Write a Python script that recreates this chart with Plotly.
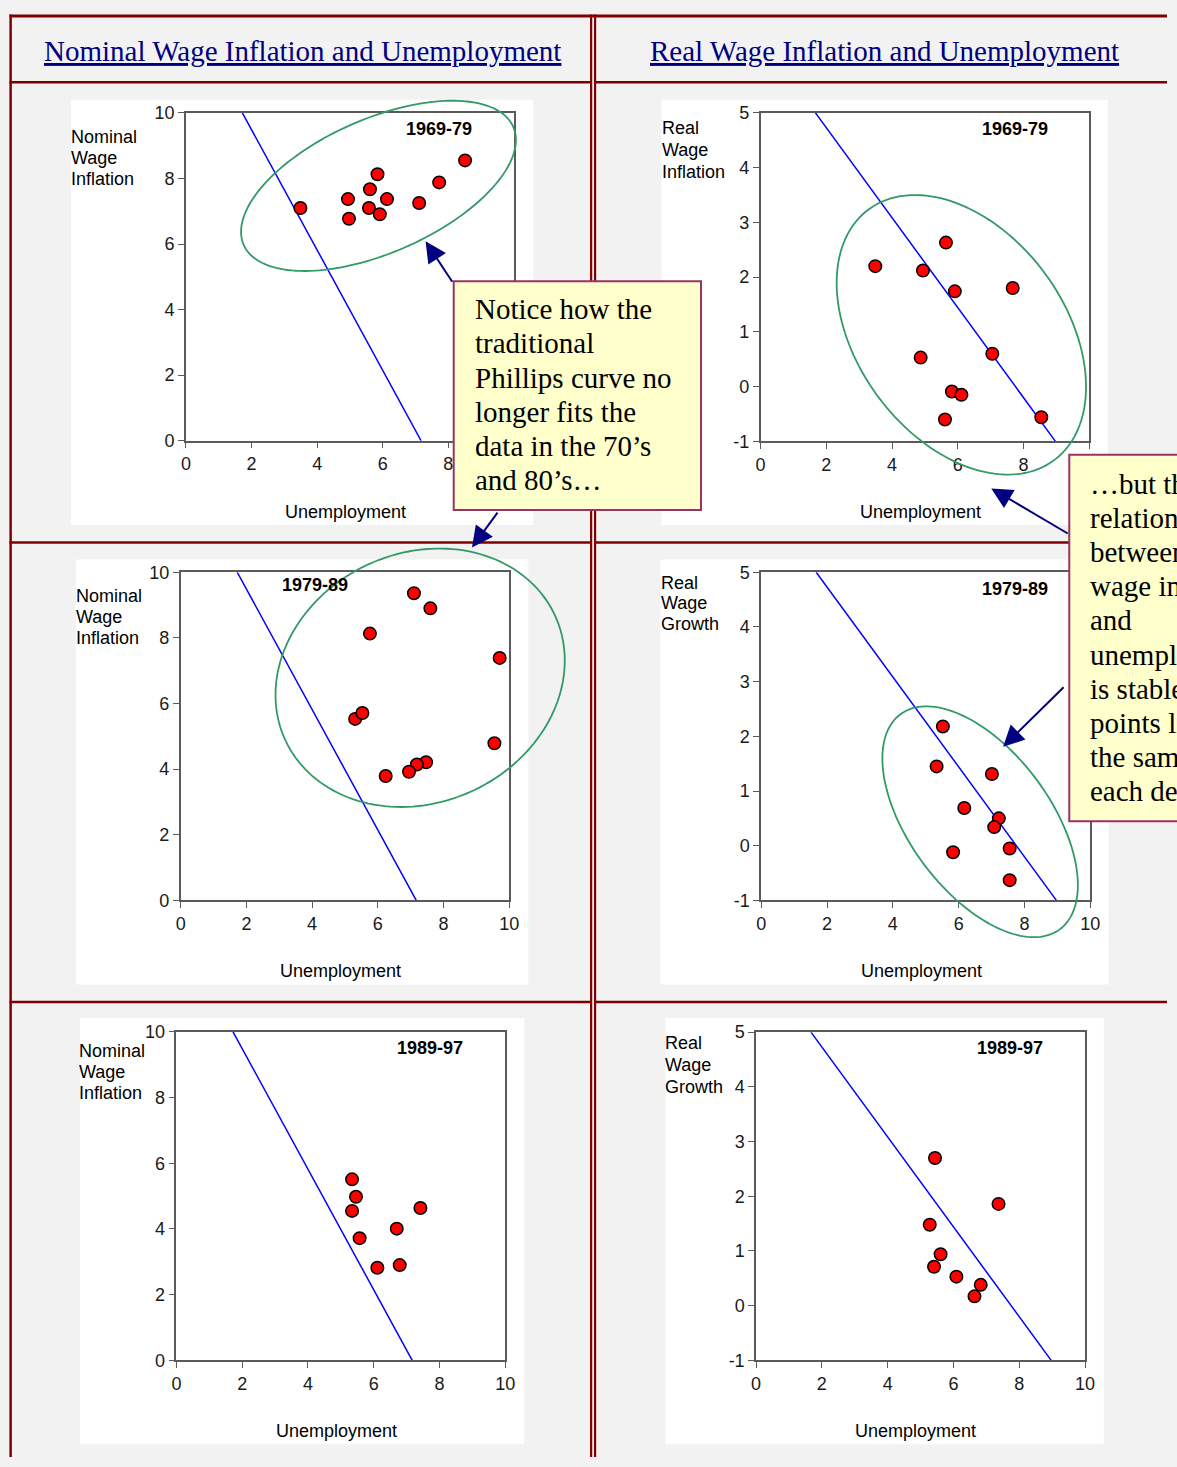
import numpy as np
import plotly.graph_objects as go

W, H = 1177, 1467

# ---------------- data ----------------
periods = ["1969-79", "1979-89", "1989-97"]

nom_u_6979 = [3.49, 4.94, 4.97, 5.61, 5.84, 5.58, 5.91, 6.13, 7.11, 7.72, 8.51]
nom_w_6979 = [7.10, 7.37, 6.77, 7.67, 8.13, 7.10, 6.91, 7.37, 7.25, 7.88, 8.55]
real_u_6979 = [3.49, 4.94, 5.64, 5.91, 7.67, 4.87, 7.05, 5.82, 6.11, 5.61, 8.54]
real_w_6979 = [2.20, 2.12, 2.63, 1.74, 1.80, 0.53, 0.60, -0.09, -0.15, -0.60, -0.56]

nom_u_7989 = [7.10, 7.60, 5.76, 9.71, 5.31, 5.53, 9.55, 7.47, 7.19, 6.95, 6.24]
nom_w_7989 = [9.36, 8.90, 8.13, 7.39, 5.53, 5.71, 4.79, 4.21, 4.14, 3.92, 3.79]
real_u_7989 = [5.52, 5.33, 7.01, 6.17, 7.22, 7.08, 7.55, 5.83, 7.55]
real_w_7989 = [2.18, 1.45, 1.31, 0.69, 0.50, 0.34, -0.05, -0.12, -0.63]

nom_u_8997 = [5.34, 5.46, 5.34, 5.57, 6.11, 6.79, 6.70, 7.42]
nom_w_8997 = [5.51, 4.98, 4.55, 3.72, 2.82, 2.90, 4.01, 4.64]
real_u_8997 = [5.44, 7.37, 5.28, 5.61, 5.41, 6.09, 6.83, 6.64]
real_w_8997 = [2.70, 1.86, 1.48, 0.94, 0.71, 0.53, 0.38, 0.17]

# reference Phillips lines (end points)
curve_nom_u = [1.72, 7.17]
curve_nom_w = [10, 0]
curve_real_u = [1.67, 8.97]
curve_real_w = [5, -1]

x_ticks = [0, 2, 4, 6, 8, 10]
nom_y_ticks = [0, 2, 4, 6, 8, 10]
real_y_ticks = [-1, 0, 1, 2, 3, 4, 5]
real_y_ticktext = ["-1", "0", "1", "2", "3", "4", "5"]

headers = ["Nominal Wage Inflation and Unemployment", "Real Wage Inflation and Unemployment"]
x_title = "Unemployment"
nom_ylabel = ["Nominal", "Wage", "Inflation"]
real_ylabel_1 = ["Real", "Wage", "Inflation"]
real_ylabel_2 = ["Real", "Wage", "Growth"]

note1_lines = ["Notice how the", "traditional", "Phillips curve no", "longer fits the",
               "data in the 70\u2019s", "and 80\u2019s\u2026"]
note2_lines = ["\u2026but the", "relationship", "between real", "wage inflation", "and",
               "unemployment", "is stable: the", "points lie on", "the same line", "each decade."]

# ---------------- layout geometry (pixels) ----------------
panels = [
    dict(u=nom_u_6979, w=nom_w_6979, cu=curve_nom_u, cw=curve_nom_w, kind="nom",
         px=(183.3, 515.5, 104.3, 436.7), bg=(67, 91, 535, 522), period=periods[0],
         ylab=nom_ylabel, ylab_pos=(67.3, 128.3, 21.7), xlab=(345, 509), per_pos=(440, 121)),
    dict(u=real_u_6979, w=real_w_6979, cu=curve_real_u, cw=curve_real_w, kind="real",
         px=(765.3, 1098.3, 104.3, 437.3), bg=(665, 91, 1117, 522), period=periods[0],
         ylab=real_ylabel_1, ylab_pos=(665.7, 119.3, 22.3), xlab=(927.7, 509), per_pos=(1022.7, 121)),
    dict(u=nom_u_7989, w=nom_w_7989, cu=curve_nom_u, cw=curve_nom_w, kind="nom",
         px=(178, 510.7, 570, 902.7), bg=(72, 557, 530, 988), period=periods[1],
         ylab=nom_ylabel, ylab_pos=(72.3, 594.3, 21.2), xlab=(340, 974.3), per_pos=(314.3, 583.3)),
    dict(u=real_u_7989, w=real_w_7989, cu=curve_real_u, cw=curve_real_w, kind="real",
         px=(766, 1099.3, 570, 902.7), bg=(664, 557, 1118, 988), period=periods[1],
         ylab=real_ylabel_2, ylab_pos=(664.7, 580.7, 21), xlab=(928.7, 974.3), per_pos=(1023.3, 586.7)),
    dict(u=nom_u_8997, w=nom_w_8997, cu=curve_nom_u, cw=curve_nom_w, kind="nom",
         px=(173.7, 506.7, 1036, 1369), bg=(76, 1022, 526, 1454), period=periods[2],
         ylab=nom_ylabel, ylab_pos=(75.3, 1055, 21.3), xlab=(335.3, 1440.3), per_pos=(430, 1052.7)),
    dict(u=real_u_8997, w=real_w_8997, cu=curve_real_u, cw=curve_real_w, kind="real",
         px=(760.7, 1094, 1036.3, 1369), bg=(669, 1022, 1113, 1454), period=periods[2],
         ylab=real_ylabel_2, ylab_pos=(668.7, 1047.7, 22), xlab=(922.7, 1440.3), per_pos=(1017.7, 1052.7)),
]

# ellipses: centre x, centre y, half width, half height, cos(phase)
ellipses = [
    (378.3, 178.3, 139.2, 86.3, -0.539),
    (968.7, 329.3, 126.3, 141.7, 0.372),
    (420.5, 677.0, 146.5, 131.0, -0.133),
    (987.7, 823.0, 99.0, 117.0, 0.549),
]

# arrows: tip (x, y), tail (x, y)
arrows = [
    ((426, 234.5), (454, 277)),
    ((473, 545), (500, 508)),
    ((999, 485), (1077, 531)),
    ((1011, 747), (1073, 686)),
]

SANS = "Arial, Liberation Sans, sans-serif"
SERIF = "Times New Roman, Liberation Serif, serif"
RED_LINE = "#800000"
CLEAR = "rgba(0,0,0,0)"


def px_x(x):
    return x / W


def px_y(y):
    return 1 - y / H


fig = go.Figure()
layout = dict(
    width=W, height=H, autosize=False,
    margin=dict(l=0, r=0, t=0, b=0, pad=0),
    paper_bgcolor="#f2f2f2", plot_bgcolor="#ffffff",
    showlegend=False, hovermode=False,
    modebar=dict(bgcolor=CLEAR, color=CLEAR, activecolor=CLEAR),
)
shapes = []
annotations = []

# white panel backgrounds
for p in panels:
    x0, y0, x1, y1 = p["bg"]
    shapes.append(dict(type="rect", xref="paper", yref="paper", layer="below",
                       x0=px_x(x0), x1=px_x(x1), y0=px_y(y1), y1=px_y(y0),
                       fillcolor="#ffffff", line=dict(width=0)))


# table rules
def hline(y, xa, xb, w):
    shapes.append(dict(type="line", xref="paper", yref="paper", layer="below",
                       x0=px_x(xa), x1=px_x(xb), y0=px_y(y), y1=px_y(y),
                       line=dict(color=RED_LINE, width=w)))


def vline(x, ya, yb, w):
    shapes.append(dict(type="line", xref="paper", yref="paper", layer="below",
                       x0=px_x(x), x1=px_x(x), y0=px_y(ya), y1=px_y(yb),
                       line=dict(color=RED_LINE, width=w)))


hline(6, 4.5, 1177, 3)
vline(5.7, 4.5, 1467, 2.5)
for yy in (73.2, 539.8, 1005.8):
    hline(yy, 4.5, 593.7, 2.5)
    hline(yy, 597.7, 1177, 2.5)
vline(593.7, 4.5, 1467, 2.2)
vline(597.7, 4.5, 1467, 2.2)

# headers
for txt, cx in zip(headers, (301, 891)):
    annotations.append(dict(xref="paper", yref="paper", x=px_x(cx), y=px_y(42),
                            xanchor="center", yanchor="middle", showarrow=False,
                            text="<u>" + txt + "</u>",
                            font=dict(family=SERIF, size=29, color="#000080")))

# panels
for i, p in enumerate(panels, start=1):
    xa = "x" if i == 1 else f"x{i}"
    ya = "y" if i == 1 else f"y{i}"
    x0, x1, yt, yb = p["px"]
    fig.add_trace(go.Scatter(x=p["cu"], y=p["cw"], mode="lines", xaxis=xa, yaxis=ya,
                             line=dict(color="#0000ff", width=1.5), hoverinfo="skip"))
    fig.add_trace(go.Scatter(x=p["u"], y=p["w"], mode="markers", xaxis=xa, yaxis=ya,
                             marker=dict(size=12.5, color="#ff0000",
                                         line=dict(color="#000000", width=1.5))))
    axcommon = dict(showline=True, mirror=True, linecolor="#5a5a5a", linewidth=1.5,
                    ticks="outside", ticklen=6, tickcolor="#5a5a5a", tickwidth=1.2,
                    showgrid=False, zeroline=False, fixedrange=True,
                    tickfont=dict(family=SANS, size=18, color="#1a1a1a"))
    layout["xaxis" if i == 1 else f"xaxis{i}"] = dict(
        domain=[px_x(x0), px_x(x1)], range=[0, 10], tickvals=x_ticks,
        anchor=ya, **axcommon)
    if p["kind"] == "nom":
        yax = dict(range=[0, 10], tickvals=nom_y_ticks)
    else:
        yax = dict(range=[-1, 5], tickvals=real_y_ticks, ticktext=real_y_ticktext)
    layout["yaxis" if i == 1 else f"yaxis{i}"] = dict(
        domain=[px_y(yb), px_y(yt)], anchor=xa, **yax, **axcommon)

    # y label (three lines)
    lx, ly0, dy = p["ylab_pos"]
    for k, word in enumerate(p["ylab"]):
        annotations.append(dict(xref="paper", yref="paper", x=px_x(lx - 2), y=px_y(ly0 + k * dy),
                                xanchor="left", yanchor="middle", showarrow=False, text=word,
                                font=dict(family=SANS, size=18, color="#000000")))
    # x label
    annotations.append(dict(xref="paper", yref="paper", x=px_x(p["xlab"][0]), y=px_y(p["xlab"][1]),
                            xanchor="center", yanchor="middle", showarrow=False, text=x_title,
                            font=dict(family=SANS, size=18, color="#000000")))
    # period label
    annotations.append(dict(xref="paper", yref="paper", x=px_x(p["per_pos"][0]), y=px_y(p["per_pos"][1]),
                            xanchor="center", yanchor="middle", showarrow=False,
                            text="<b>" + p["period"] + "</b>",
                            font=dict(family=SANS, size=18, color="#000000")))


# ellipses
def ellipse_path(cx, cy, a, b, cphi, n=160):
    t = np.linspace(0, 2 * np.pi, n)
    phi = np.arccos(cphi)
    xs = cx + a * np.cos(t)
    ys = cy + b * np.cos(t - phi)
    pts = [f"{px_x(x):.5f},{px_y(y):.5f}" for x, y in zip(xs, ys)]
    return "M" + " L".join(pts) + " Z"


for e in ellipses:
    shapes.append(dict(type="path", xref="paper", yref="paper", layer="above",
                       path=ellipse_path(*e), line=dict(color="#339966", width=1.8)))

# note boxes
for (bx0, by0, bx1, by1) in ((454.5, 275, 705, 507), (1078, 451, 1340, 822.5)):
    shapes.append(dict(type="rect", xref="paper", yref="paper", layer="above",
                       x0=px_x(bx0), x1=px_x(bx1), y0=px_y(by1), y1=px_y(by0),
                       fillcolor="#ffffcc", line=dict(color="#993366", width=2)))

for lines, (tx, ty0) in ((note1_lines, (474, 303.5)), (note2_lines, (1097, 480.5))):
    for k, s in enumerate(lines):
        annotations.append(dict(xref="paper", yref="paper", x=px_x(tx), y=px_y(ty0 + k * 34.6),
                                xanchor="left", yanchor="middle", showarrow=False, text=s,
                                font=dict(family=SERIF, size=29, color="#000000")))

# arrows
for (tip, tail) in arrows:
    annotations.append(dict(xref="paper", yref="paper", x=px_x(tip[0]), y=px_y(tip[1]),
                            ax=tail[0] - tip[0], ay=tail[1] - tip[1], axref="pixel", ayref="pixel",
                            text=" ", showarrow=True, arrowhead=2, arrowsize=2.1,
                            arrowwidth=2, arrowcolor="#000080", standoff=0,
                            font=dict(size=1)))

layout["shapes"] = shapes
layout["annotations"] = annotations
fig.update_layout(**layout)

PAGE_FIX = ("document.body.style.margin='0';document.body.style.padding='0';"
            "document.documentElement.style.overflow='hidden';document.body.style.overflow='hidden';")
fig.write_html("out.html", post_script=PAGE_FIX, config={"displayModeBar": False, "displaylogo": False})
